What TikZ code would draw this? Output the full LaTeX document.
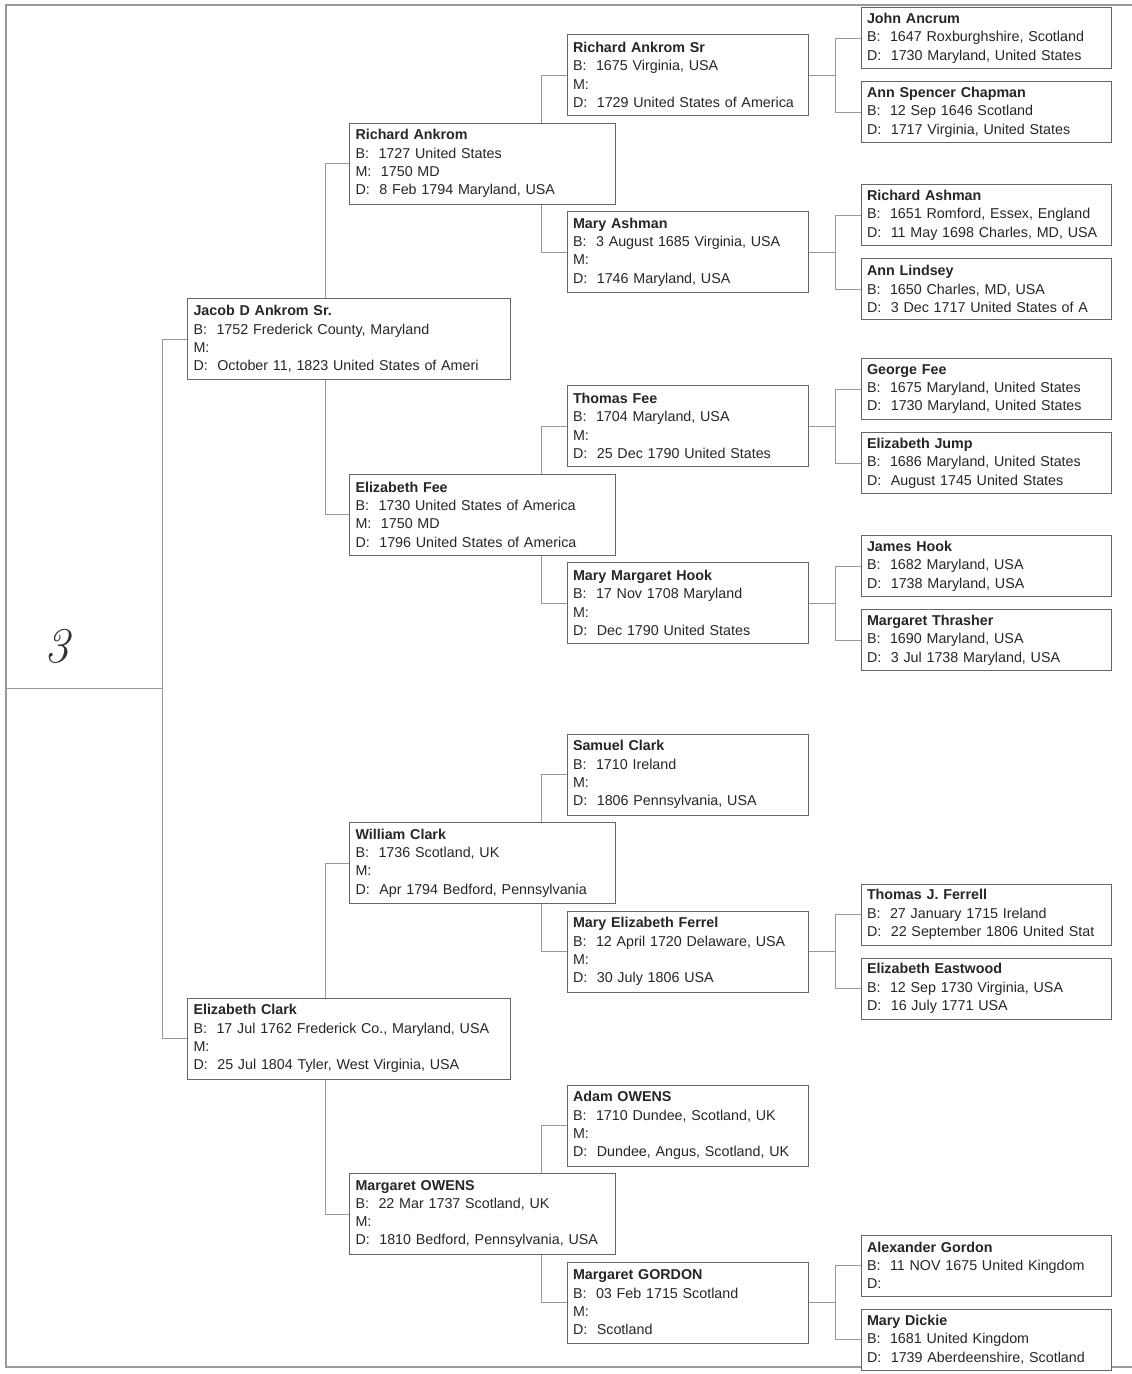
\documentclass[tikz,border=0pt]{standalone}
\usepackage{fontspec}
\newfontfamily\boxfont{Liberation Sans}
\usetikzlibrary{positioning}
\usetikzlibrary{backgrounds}

\begin{document}
\begin{tikzpicture}[
    x=1pt, y=-1pt,
    person/.style={draw=black!60, fill=white, text=black!85, align=left,
        inner xsep=6pt, inner ysep=0pt, line width=1pt,
        font=\boxfont\fontsize{14.3}{18.3}\selectfont},
    gen1/.style={person, text width=311pt, minimum height=81pt},
    gen2/.style={person, text width=254pt, minimum height=81pt},
    gen3/.style={person, text width=229pt, minimum height=81pt},
    gen4/.style={person, text width=238pt, minimum height=61pt},
    link/.style={black!40, line width=1pt},
    frame/.style={black!40, line width=1.2pt},
]

\useasboundingbox (0,0) rectangle (1132,1374);

%----------------------------------
% Page frame and chart number
%----------------------------------

\draw[frame] (1132,5) -- (6,5) -- (6,1367) -- (1132,1367);

\node[font=\fontsize{50}{50}\selectfont\itshape, text=black!80] (chartNo) at (57,646) {3};

\coordinate (frameLeft) at (6,688);

%----------------------------------
% Parents
%----------------------------------

\node[gen1, anchor=north west] (jAnkrom) at (187,298)
    {\textbf{Jacob D Ankrom Sr.}\\B:~~1752 Frederick County, Maryland\\M:\\D:~~October 11, 1823 United States of Ameri};
\node[gen1, below=617.5pt of jAnkrom] (eClark)
    {\textbf{Elizabeth Clark}\\B:~~17 Jul 1762 Frederick Co., Maryland, USA\\M:\\D:~~25 Jul 1804 Tyler, West Virginia, USA};

%----------------------------------
% Grandparents
%----------------------------------

\node[gen2, above right=93.5pt and 0pt of jAnkrom.north] (rAnkrom)
    {\textbf{Richard Ankrom}\\B:~~1727 United States\\M:~~1750 MD\\D:~~8 Feb 1794 Maryland, USA};
\node[gen2, below right=93.5pt and 0pt of jAnkrom.south] (eFee)
    {\textbf{Elizabeth Fee}\\B:~~1730 United States of America\\M:~~1750 MD\\D:~~1796 United States of America};
\node[gen2, above right=93.5pt and 0pt of eClark.north] (wClark)
    {\textbf{William Clark}\\B:~~1736 Scotland, UK\\M:\\D:~~Apr 1794 Bedford, Pennsylvania};
\node[gen2, below right=93.5pt and 0pt of eClark.south] (mOwens)
    {\textbf{Margaret OWENS}\\B:~~22 Mar 1737 Scotland, UK\\M:\\D:~~1810 Bedford, Pennsylvania, USA};

%----------------------------------
% Great-grandparents
%----------------------------------

\node[gen3, above right=6.5pt and 84pt of rAnkrom.north] (rAnkromSr)
    {\textbf{Richard Ankrom Sr}\\B:~~1675 Virginia, USA\\M:\\D:~~1729 United States of America};
\node[gen3, below right=6.5pt and 84pt of rAnkrom.south] (mAshman)
    {\textbf{Mary Ashman}\\B:~~3 August 1685 Virginia, USA\\M:\\D:~~1746 Maryland, USA};
\node[gen3, above right=6.5pt and 84pt of eFee.north] (tFee)
    {\textbf{Thomas Fee}\\B:~~1704 Maryland, USA\\M:\\D:~~25 Dec 1790 United States};
\node[gen3, below right=6.5pt and 84pt of eFee.south] (mHook)
    {\textbf{Mary Margaret Hook}\\B:~~17 Nov 1708 Maryland\\M:\\D:~~Dec 1790 United States};
\node[gen3, above right=6.5pt and 84pt of wClark.north] (sClark)
    {\textbf{Samuel Clark}\\B:~~1710 Ireland\\M:\\D:~~1806 Pennsylvania, USA};
\node[gen3, below right=6.5pt and 84pt of wClark.south] (mFerrel)
    {\textbf{Mary Elizabeth Ferrel}\\B:~~12 April 1720 Delaware, USA\\M:\\D:~~30 July 1806 USA};
\node[gen3, above right=6.5pt and 84pt of mOwens.north] (aOwens)
    {\textbf{Adam OWENS}\\B:~~1710 Dundee, Scotland, UK\\M:\\D:~~Dundee, Angus, Scotland, UK};
\node[gen3, below right=6.5pt and 84pt of mOwens.south] (mGordon)
    {\textbf{Margaret GORDON}\\B:~~03 Feb 1715 Scotland\\M:\\D:~~Scotland};

%----------------------------------
% Great-great-grandparents
%----------------------------------

\node[gen4, above right=6pt and 52pt of rAnkromSr.east] (jAncrum)
    {\textbf{John Ancrum}\\B:~~1647 Roxburghshire, Scotland\\D:~~1730 Maryland, United States};
\node[gen4, below right=6pt and 52pt of rAnkromSr.east] (aChapman)
    {\textbf{Ann Spencer Chapman}\\B:~~12 Sep 1646 Scotland\\D:~~1717 Virginia, United States};
\node[gen4, above right=6pt and 52pt of mAshman.east] (rAshman)
    {\textbf{Richard Ashman}\\B:~~1651 Romford, Essex, England\\D:~~11 May 1698 Charles, MD, USA};
\node[gen4, below right=6pt and 52pt of mAshman.east] (aLindsey)
    {\textbf{Ann Lindsey}\\B:~~1650 Charles, MD, USA\\D:~~3 Dec 1717 United States of A};
\node[gen4, above right=6pt and 52pt of tFee.east] (gFee)
    {\textbf{George Fee}\\B:~~1675 Maryland, United States\\D:~~1730 Maryland, United States};
\node[gen4, below right=6pt and 52pt of tFee.east] (eJump)
    {\textbf{Elizabeth Jump}\\B:~~1686 Maryland, United States\\D:~~August 1745 United States};
\node[gen4, above right=6pt and 52pt of mHook.east] (jHook)
    {\textbf{James Hook}\\B:~~1682 Maryland, USA\\D:~~1738 Maryland, USA};
\node[gen4, below right=6pt and 52pt of mHook.east] (mThrasher)
    {\textbf{Margaret Thrasher}\\B:~~1690 Maryland, USA\\D:~~3 Jul 1738 Maryland, USA};
\node[gen4, above right=6pt and 52pt of mFerrel.east] (tFerrell)
    {\textbf{Thomas J. Ferrell}\\B:~~27 January 1715 Ireland\\D:~~22 September 1806 United Stat};
\node[gen4, below right=6pt and 52pt of mFerrel.east] (eEastwood)
    {\textbf{Elizabeth Eastwood}\\B:~~12 Sep 1730 Virginia, USA\\D:~~16 July 1771 USA};
\node[gen4, above right=6pt and 52pt of mGordon.east] (aGordon)
    {\textbf{Alexander Gordon}\\B:~~11 NOV 1675 United Kingdom\\D:};
\node[gen4, below right=6pt and 52pt of mGordon.east] (mDickie)
    {\textbf{Mary Dickie}\\B:~~1681 United Kingdom\\D:~~1739 Aberdeenshire, Scotland};

%----------------------------------
% Connectors
%----------------------------------

\begin{scope}[on background layer]

\draw[link] (jAnkrom.west) -- ++(-25,0) coordinate (rootTurn) |- (eClark.west);
\draw[link] (frameLeft) -- (frameLeft -| rootTurn);

\draw[link] (rAnkrom.west) -- ++(-24,0) |- (eFee.west);
\draw[link] (wClark.west) -- ++(-24,0) |- (mOwens.west);

\draw[link] (rAnkromSr.west) -- ++(-25,0) |- (mAshman.west);
\draw[link] (tFee.west) -- ++(-25,0) |- (mHook.west);
\draw[link] (sClark.west) -- ++(-25,0) |- (mFerrel.west);
\draw[link] (aOwens.west) -- ++(-25,0) |- (mGordon.west);

\draw[link] (rAnkromSr.east) -- ++(27,0);
\draw[link] (jAncrum.west) -- ++(-25,0) |- (aChapman.west);
\draw[link] (mAshman.east) -- ++(27,0);
\draw[link] (rAshman.west) -- ++(-25,0) |- (aLindsey.west);
\draw[link] (tFee.east) -- ++(27,0);
\draw[link] (gFee.west) -- ++(-25,0) |- (eJump.west);
\draw[link] (mHook.east) -- ++(27,0);
\draw[link] (jHook.west) -- ++(-25,0) |- (mThrasher.west);
\draw[link] (mFerrel.east) -- ++(27,0);
\draw[link] (tFerrell.west) -- ++(-25,0) |- (eEastwood.west);
\draw[link] (mGordon.east) -- ++(27,0);
\draw[link] (aGordon.west) -- ++(-25,0) |- (mDickie.west);

\end{scope}

\end{tikzpicture}
\end{document}
